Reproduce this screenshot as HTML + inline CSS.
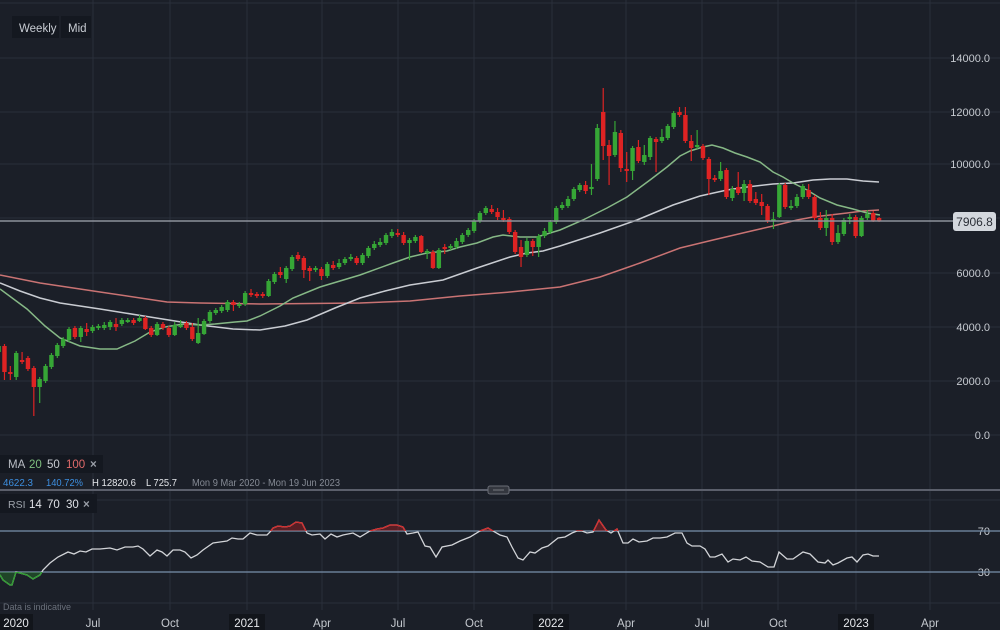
<!DOCTYPE html>
<html>
<head>
<meta charset="utf-8">
<style>
  html,body{margin:0;padding:0;background:#1b1f28;}
  body{width:1000px;height:630px;overflow:hidden;}
  svg{display:block;font-family:"Liberation Sans",sans-serif;}
</style>
</head>
<body>
<svg width="1000" height="630" viewBox="0 0 1000 630" xmlns="http://www.w3.org/2000/svg">
  <defs>
    <clipPath id="ob"><rect x="0" y="495" width="1000" height="36"/></clipPath>
    <clipPath id="os"><rect x="0" y="572" width="1000" height="36"/></clipPath>
  </defs>
  <rect x="0" y="0" width="1000" height="630" fill="#1b1f28"/>

  <!-- vertical gridlines -->
  <g stroke="#2a2f3a" stroke-width="1">
    <line x1="93" y1="0" x2="93" y2="610"/>
    <line x1="170" y1="0" x2="170" y2="610"/>
    <line x1="247" y1="0" x2="247" y2="610"/>
    <line x1="322" y1="0" x2="322" y2="610"/>
    <line x1="398" y1="0" x2="398" y2="610"/>
    <line x1="474" y1="0" x2="474" y2="610"/>
    <line x1="552" y1="0" x2="552" y2="610"/>
    <line x1="626" y1="0" x2="626" y2="610"/>
    <line x1="702" y1="0" x2="702" y2="610"/>
    <line x1="778" y1="0" x2="778" y2="610"/>
    <line x1="856" y1="0" x2="856" y2="610"/>
    <line x1="930" y1="0" x2="930" y2="610"/>
  </g>
  <!-- horizontal gridlines -->
  <g stroke="#2a2f3a" stroke-width="1">
    <line x1="0" y1="3" x2="1000" y2="3"/>
    <line x1="0" y1="58" x2="1000" y2="58"/>
    <line x1="0" y1="112" x2="1000" y2="112"/>
    <line x1="0" y1="164" x2="1000" y2="164"/>
    <line x1="0" y1="218" x2="1000" y2="218"/>
    <line x1="0" y1="273" x2="1000" y2="273"/>
    <line x1="0" y1="327" x2="1000" y2="327"/>
    <line x1="0" y1="381" x2="1000" y2="381"/>
    <line x1="0" y1="435" x2="1000" y2="435"/>
    <line x1="0" y1="500" x2="1000" y2="500"/>
    <line x1="0" y1="603" x2="1000" y2="603"/>
  </g>

  <!-- MA100 -->
  <polyline fill="none" stroke="#c97373" stroke-width="1.5" points="0,275 40,283 100,292 167,302 200,303 260,304 360,303 410,301 460,296 510,292 560,287 600,277 640,263 680,248 713,240 747,232 773,226 797,220 813,217 830,215 847,213 863,211 879,210"/>
  <!-- MA50 -->
  <polyline fill="none" stroke="#c9ccd2" stroke-width="1.5" points="0,283 20,291 40,298 60,303 100,309 150,317 200,325 233,329 260,330 285,326 307,320 335,308 360,298 385,291 410,285 443,280 477,268 510,257 527,253 543,251 560,246 600,233 637,220 673,205 700,196 727,190 747,187 773,184 793,183 813,180 830,179 847,179 863,181 879,182"/>
  <!-- MA20 -->
  <polyline fill="none" stroke="#86b886" stroke-width="1.5" points="0,289 27,309 45,326 60,338 80,346 100,349 117,349 135,341 150,332 165,327 183,324 200,325 215,324 235,322 247,321 260,316 280,306 293,298 320,287 360,275 393,263 410,257 427,253 447,251 460,247 477,243 493,237 503,235 520,237 537,237 550,233 560,230 583,220 607,208 627,197 650,180 667,167 680,156 690,151 703,147 712,145 723,148 735,153 747,157 760,162 773,172 783,177 793,183 807,190 820,198 837,205 853,209 867,213 880,215"/>

  <!-- candles -->
  <g transform="translate(-1.4,0) scale(5.87,1)" fill="none">
    <path stroke="#36a636" stroke-width="1.2" vector-effect="non-scaling-stroke" d="M0 342V356 M3 351V380 M7 377V403 M8 364V383 M9 353V369 M10 343V358 M11 337V348 M12 327V342 M14 326V342 M16 325V333 M17 324V330 M18 322V330 M19 320V330 M21 318V326 M22 318V323 M24 315V322 M27 322V336 M30 322V336 M31 320V328 M34 318V344 M35 319V335 M36 310V323 M37 308V315 M38 305V313 M39 300V312 M41 302V308 M42 291V306 M46 279V297 M47 272V284 M49 266V283 M50 255V271 M54 266V272 M56 262V278 M58 259V269 M59 257V265 M60 254V261 M62 253V265 M63 246V258 M64 241V250 M65 238V247 M66 233V245 M67 229V238 M70 238V260 M71 235V243 M73 249V259 M75 248V269 M77 244V250 M78 238V249 M79 233V244 M80 228V237 M81 219V233 M82 211V223 M83 206V215 M90 238V257 M92 234V257 M93 228V238 M94 220V234 M95 206V224 M96 202V210 M97 196V208 M98 187V201 M99 183V192 M101 164V195 M102 124V181 M105 121V157 M108 146V180 M110 145V165 M111 136V160 M113 129V143 M114 124V140 M115 111V129 M119 130V149 M123 162V181 M125 186V201 M127 180V201 M132 212V229 M133 183V218 M135 200V210 M136 194V208 M137 184V199 M141 210V236 M143 225V244 M144 218V236 M145 214V224 M147 216V237 M148 210V220"/>
    <path stroke="#de2323" stroke-width="1.2" vector-effect="non-scaling-stroke" d="M1 344V380 M2 366V380 M4 352V364 M5 356V371 M6 366V416 M13 326V339 M15 323V336 M20 318V331 M23 318V325 M25 316V330 M26 326V337 M28 322V330 M29 326V337 M32 321V330 M33 323V341 M40 300V311 M43 289V297 M44 292V298 M45 292V298 M48 267V278 M51 252V261 M52 256V278 M53 266V281 M55 267V280 M57 261V270 M61 256V265 M68 229V237 M69 232V245 M72 235V253 M74 250V269 M76 244V254 M84 205V214 M85 208V220 M86 210V222 M87 217V234 M88 230V254 M89 240V267 M91 239V256 M100 181V194 M103 88V160 M104 140V185 M106 130V172 M107 152V182 M109 140V163 M112 137V172 M116 107V117 M117 107V143 M118 135V161 M120 144V160 M121 157V195 M122 175V182 M124 168V199 M126 172V195 M128 180V203 M129 192V205 M130 194V215 M131 204V223 M134 183V209 M138 184V199 M139 195V220 M140 212V230 M142 214V245 M146 215V238 M149 211V222 M150 217V222"/>
    <path stroke="#36a636" stroke-width="4.4" vector-effect="non-scaling-stroke" d="M0 352V346 M3 377V353 M7 387V379 M8 381V366 M9 367V355 M10 356V345 M11 346V339 M12 340V329 M14 337V328 M16 331V327 M17 328V326 M18 328V325 M19 327V322 M21 324V320 M22 322V320 M24 321V318 M27 335V324 M30 335V325 M31 327V325 M34 343V333 M35 334V321 M36 321V312 M37 313V310 M38 311V307 M39 310V302 M41 306V304 M42 304V293 M46 296V281 M47 282V274 M49 279V268 M50 269V257 M54 270V268 M56 276V264 M58 267V263 M59 263V259 M60 259V257 M62 263V255 M63 256V248 M64 248V244 M65 245V242 M66 243V235 M67 236V232 M70 243V240 M71 241V237 M73 253V251 M75 268V250 M77 248V246 M78 247V241 M79 242V235 M80 235V230 M81 231V221 M82 221V213 M83 213V208 M90 255V241 M92 247V236 M93 236V231 M94 232V222 M95 222V208 M96 208V205 M97 206V199 M98 199V189 M99 190V185 M101 189V187 M102 179V128 M105 155V132 M108 171V148 M110 162V155 M111 157V138 M113 141V137 M114 138V126 M115 127V113 M119 147V145 M123 179V171 M125 198V189 M127 193V184 M132 221V219 M133 217V185 M135 208V206 M136 206V197 M137 197V186 M141 228V218 M143 242V233 M144 234V220 M145 219V217 M147 236V218 M148 218V214"/>
    <path stroke="#de2323" stroke-width="4.4" vector-effect="non-scaling-stroke" d="M1 346V372 M2 372V374 M4 360V362 M5 358V369 M6 368V387 M13 328V337 M15 329V332 M20 324V327 M23 320V323 M25 318V329 M26 328V335 M28 324V328 M29 328V335 M32 323V328 M33 327V339 M40 302V305 M43 293V295 M44 294V296 M45 294V296 M48 272V275 M51 255V259 M52 258V270 M53 268V271 M55 269V276 M57 265V268 M61 258V263 M68 233V235 M69 235V243 M72 236V252 M74 252V268 M76 247V249 M84 209V212 M85 212V217 M86 218V220 M87 219V232 M88 232V252 M89 247V257 M91 241V247 M100 185V191 M103 112V146 M104 145V156 M106 133V168 M107 169V171 M109 147V161 M112 139V142 M116 112V115 M117 115V141 M118 141V148 M120 146V158 M121 159V179 M122 178V180 M124 170V197 M126 187V193 M128 184V201 M129 199V203 M130 202V206 M131 206V221 M134 185V207 M138 190V197 M139 197V218 M140 218V228 M142 218V242 M146 217V236 M149 213V221 M150 218V221"/>
  </g>

  <!-- current price line -->
  <line x1="0" y1="221" x2="953" y2="221" stroke="#8d929b" stroke-width="1.5"/>
  <rect x="953" y="212" width="43" height="19" rx="3" fill="#d3d7dd"/>
  <text x="974.5" y="226" font-size="12" fill="#2a2e36" text-anchor="middle">7906.8</text>

  <!-- right axis labels -->
  <g font-size="11" fill="#c5c9cf" text-anchor="end">
    <text x="990" y="62">14000.0</text>
    <text x="990" y="116">12000.0</text>
    <text x="990" y="168">10000.0</text>
    <text x="990" y="277">6000.0</text>
    <text x="990" y="331">4000.0</text>
    <text x="990" y="385">2000.0</text>
    <text x="990" y="439">0.0</text>
    <text x="990" y="535">70</text>
    <text x="990" y="576">30</text>
  </g>

  <!-- Top legend -->
  <rect x="12" y="16" width="47" height="22" fill="#141820"/>
  <rect x="61" y="16" width="30" height="22" fill="#141820"/>
  <text x="19" y="32" font-size="11.5" fill="#c8ccd3">Weekly</text>
  <text x="68" y="32" font-size="11.5" fill="#c8ccd3">Mid</text>

  <!-- MA legend -->
  <rect x="0" y="455" width="103" height="18" fill="#141820"/>
  <text y="468" font-size="11.5">
    <tspan x="8" fill="#b9bdc4">MA</tspan>
    <tspan x="29" fill="#7fbf7f">20</tspan>
    <tspan x="47" fill="#c9ccd2">50</tspan>
    <tspan x="66" fill="#e06a6a">100</tspan>
    <tspan x="90" fill="#9a9fa8" font-weight="bold">×</tspan>
  </text>
  <g font-size="10.5">
    <text x="3" y="486" fill="#3d8fe0" textLength="30" lengthAdjust="spacingAndGlyphs">4622.3</text>
    <text x="46" y="486" fill="#3d8fe0" textLength="37" lengthAdjust="spacingAndGlyphs">140.72%</text>
    <text x="92" y="486" fill="#e6e8ec" textLength="44" lengthAdjust="spacingAndGlyphs">H 12820.6</text>
    <text x="146" y="486" fill="#e6e8ec" textLength="31" lengthAdjust="spacingAndGlyphs">L 725.7</text>
    <text x="192" y="486" fill="#858a94" textLength="148" lengthAdjust="spacingAndGlyphs">Mon 9 Mar 2020 - Mon 19 Jun 2023</text>
  </g>

  <!-- separator -->
  <line x1="0" y1="490" x2="1000" y2="490" stroke="#5b5f6b" stroke-width="2"/>
  <rect x="488" y="486" width="21" height="8" rx="2" fill="#34373f" stroke="#6a6d76" stroke-width="1"/>
  <line x1="493" y1="490" x2="504" y2="490" stroke="#55585f" stroke-width="2"/>

  <!-- RSI legend -->
  <rect x="0" y="494" width="97" height="19" fill="#141820"/>
  <text y="508" font-size="11.5">
    <tspan x="8" fill="#9ea3ab" font-size="10.5">RSI</tspan>
    <tspan x="29" fill="#e0e3e8">14</tspan>
    <tspan x="47" fill="#e0e3e8">70</tspan>
    <tspan x="66" fill="#e0e3e8">30</tspan>
    <tspan x="83" fill="#9a9fa8" font-weight="bold">×</tspan>
  </text>

  <!-- RSI levels -->
  <line x1="0" y1="531" x2="1000" y2="531" stroke="#7890aa" stroke-width="1.2"/>
  <line x1="0" y1="572" x2="1000" y2="572" stroke="#7890aa" stroke-width="1.2"/>

  <!-- RSI fills -->
  <polygon clip-path="url(#ob)" fill="rgba(200,30,30,0.35)" points="0,531 0,575 3,580 10,585 12,585 16,572 27,575 33,579 40,575 43,570 50,563 58,557 68,552 74,554 80,551 86,552 92,549 100,549 110,548 117,550 125,547 133,547 138,546 143,549 150,556 157,550 162,552 167,556 173,550 180,550 185,552 191,558 197,555 203,550 213,543 220,542 227,541 232,538 238,539 243,539 250,533 257,535 267,535 270,532 273,528 278,526 285,527 290,526 296,522 302,523 307,533 312,535 320,534 325,539 331,534 337,537 343,535 353,533 360,537 370,531 377,529 383,528 390,525 397,525 403,527 407,534 413,533 418,532 425,546 430,547 436,557 442,547 452,545 460,541 470,537 480,531 488,528 493,531 500,535 507,537 512,547 518,558 523,560 530,552 535,553 542,548 548,546 558,538 565,537 572,533 577,531 582,531 587,533 593,532 599,520 606,530 611,533 617,529 623,543 628,543 633,539 639,542 647,541 653,538 660,538 667,537 675,533 682,533 687,543 692,546 700,546 705,549 710,557 715,557 722,554 728,562 733,559 740,560 746,557 752,561 760,562 768,567 774,567 779,552 787,559 793,559 803,552 810,554 818,562 825,563 828,560 833,565 838,563 847,558 852,557 857,562 863,555 868,554 873,556 879,556 879,531"/>
  <polygon clip-path="url(#os)" fill="rgba(40,140,40,0.35)" points="0,572 0,575 3,580 10,585 12,585 16,572 27,575 33,579 40,575 43,570 50,563 50,572"/>

  <!-- RSI line -->
  <g fill="none" stroke-width="1.3">
    <polyline stroke="#d2d4d8" points="0,575 3,580 10,585 12,585 16,572 27,575 33,579 40,575 43,570 50,563 58,557 68,552 74,554 80,551 86,552 92,549 100,549 110,548 117,550 125,547 133,547 138,546 143,549 150,556 157,550 162,552 167,556 173,550 180,550 185,552 191,558 197,555 203,550 213,543 220,542 227,541 232,538 238,539 243,539 250,533 257,535 267,535 270,532 273,528 278,526 285,527 290,526 296,522 302,523 307,533 312,535 320,534 325,539 331,534 337,537 343,535 353,533 360,537 370,531 377,529 383,528 390,525 397,525 403,527 407,534 413,533 418,532 425,546 430,547 436,557 442,547 452,545 460,541 470,537 480,531 488,528 493,531 500,535 507,537 512,547 518,558 523,560 530,552 535,553 542,548 548,546 558,538 565,537 572,533 577,531 582,531 587,533 593,532 599,520 606,530 611,533 617,529 623,543 628,543 633,539 639,542 647,541 653,538 660,538 667,537 675,533 682,533 687,543 692,546 700,546 705,549 710,557 715,557 722,554 728,562 733,559 740,560 746,557 752,561 760,562 768,567 774,567 779,552 787,559 793,559 803,552 810,554 818,562 825,563 828,560 833,565 838,563 847,558 852,557 857,562 863,555 868,554 873,556 879,556"/>
    <polyline clip-path="url(#ob)" stroke="#d42a2a" points="0,575 3,580 10,585 12,585 16,572 27,575 33,579 40,575 43,570 50,563 58,557 68,552 74,554 80,551 86,552 92,549 100,549 110,548 117,550 125,547 133,547 138,546 143,549 150,556 157,550 162,552 167,556 173,550 180,550 185,552 191,558 197,555 203,550 213,543 220,542 227,541 232,538 238,539 243,539 250,533 257,535 267,535 270,532 273,528 278,526 285,527 290,526 296,522 302,523 307,533 312,535 320,534 325,539 331,534 337,537 343,535 353,533 360,537 370,531 377,529 383,528 390,525 397,525 403,527 407,534 413,533 418,532 425,546 430,547 436,557 442,547 452,545 460,541 470,537 480,531 488,528 493,531 500,535 507,537 512,547 518,558 523,560 530,552 535,553 542,548 548,546 558,538 565,537 572,533 577,531 582,531 587,533 593,532 599,520 606,530 611,533 617,529 623,543 628,543"/>
    <polyline clip-path="url(#os)" stroke="#2f9e2f" points="0,575 3,580 10,585 12,585 16,572 27,575 33,579 40,575 43,570 50,563"/>
  </g>

  <!-- Data is indicative -->
  <text x="3" y="610" font-size="9" fill="#6a707b">Data is indicative</text>

  <!-- bottom axis -->
  <rect x="0" y="614" width="33" height="16" fill="#12151b"/>
  <rect x="229" y="614" width="36" height="16" fill="#12151b"/>
  <rect x="533" y="614" width="36" height="16" fill="#12151b"/>
  <rect x="838" y="614" width="36" height="16" fill="#12151b"/>
  <g font-size="11.5" text-anchor="middle">
    <text x="16" y="627" fill="#e6e8ec">2020</text>
    <text x="93" y="627" fill="#c5c9cf">Jul</text>
    <text x="170" y="627" fill="#c5c9cf">Oct</text>
    <text x="247" y="627" fill="#e6e8ec">2021</text>
    <text x="322" y="627" fill="#c5c9cf">Apr</text>
    <text x="398" y="627" fill="#c5c9cf">Jul</text>
    <text x="474" y="627" fill="#c5c9cf">Oct</text>
    <text x="551" y="627" fill="#e6e8ec">2022</text>
    <text x="626" y="627" fill="#c5c9cf">Apr</text>
    <text x="702" y="627" fill="#c5c9cf">Jul</text>
    <text x="778" y="627" fill="#c5c9cf">Oct</text>
    <text x="856" y="627" fill="#e6e8ec">2023</text>
    <text x="930" y="627" fill="#c5c9cf">Apr</text>
  </g>
</svg>
</body>
</html>
